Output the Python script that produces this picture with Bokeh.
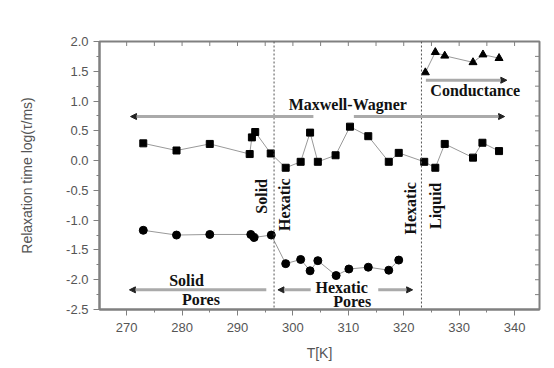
import math
from bokeh.plotting import figure
from bokeh.models import (Range1d, Span, Arrow, NormalHead, SingleIntervalTicker,
                          CustomJSTickFormatter)
from bokeh.core.properties import value
from bokeh.embed import file_html
from bokeh.resources import INLINE

# ---- data ----
sq_T = [273.0, 279.0, 285.0, 292.2, 292.6, 293.2, 296.0, 298.7, 301.4, 303.1, 304.5,
        307.7, 310.3, 313.6, 317.3, 319.1, 323.7, 325.7, 327.4, 332.5, 334.2, 337.2]
sq_y = [0.29, 0.17, 0.28, 0.11, 0.39, 0.48, 0.12, -0.12, -0.02, 0.47, -0.02,
        0.09, 0.57, 0.41, -0.02, 0.13, -0.02, -0.12, 0.28, 0.05, 0.30, 0.16]

ci_T = [273.0, 279.0, 285.0, 292.4, 293.0, 296.1, 298.7, 301.4, 303.1, 304.5,
        307.8, 310.1, 313.6, 317.3, 319.1]
ci_y = [-1.17, -1.25, -1.24, -1.24, -1.29, -1.25, -1.73, -1.66, -1.85, -1.68,
        -1.93, -1.82, -1.79, -1.84, -1.67]

tr_T = [323.9, 325.7, 327.4, 332.5, 334.3, 337.2]
tr_y = [1.48, 1.82, 1.76, 1.65, 1.78, 1.72]

transitions = [296.6, 323.2]

# mirrored (inward) tick positions on the top and right frame edges
top_ticks = [270, 275, 280, 285, 290, 295, 300, 305, 310, 315, 320, 325, 330, 335, 340]
right_ticks = [-2.25, -2.0, -1.75, -1.5, -1.25, -1.0, -0.75, -0.5, -0.25, 0.0,
               0.25, 0.5, 0.75, 1.0, 1.25, 1.5, 1.75]

X0, X1 = 265.1, 344.5
Y0, Y1 = -2.5, 2.0

FRAME = "#808080"
TXT = "#555555"

p = figure(width=554, height=368, output_backend="svg", toolbar_location=None,
           x_range=Range1d(X0, X1), y_range=Range1d(Y0, Y1),
           min_border_left=99, min_border_right=15, min_border_top=41, min_border_bottom=59,
           x_axis_label="T[K]", y_axis_label="Relaxation time log(τ/ms)")
p.xgrid.visible = False
p.ygrid.visible = False
p.outline_line_color = FRAME
p.outline_line_width = 2

xa = p.xaxis[0]
xa.ticker = SingleIntervalTicker(interval=10, num_minor_ticks=2)
ya = p.yaxis[0]
ya.ticker = SingleIntervalTicker(interval=0.5, num_minor_ticks=2)
ya.formatter = CustomJSTickFormatter(code="return tick.toFixed(1);")

for ax in (xa, ya):
    ax.axis_line_color = FRAME
    ax.axis_line_width = 2
    ax.major_tick_line_color = FRAME
    ax.minor_tick_line_color = FRAME
    ax.major_tick_line_width = 1
    ax.major_tick_out = 6
    ax.major_tick_in = 0
    ax.minor_tick_out = 3
    ax.minor_tick_in = 0
    ax.major_label_text_font = "Liberation Sans"
    ax.major_label_text_font_size = "13px"
    ax.major_label_text_color = TXT
    ax.axis_label_text_font = "Liberation Sans"
    ax.axis_label_text_font_size = "14px"
    ax.axis_label_text_font_style = "normal"
    ax.axis_label_text_color = TXT
xa.major_label_standoff = 7
ya.major_label_standoff = 5
xa.axis_label_standoff = 10
ya.axis_label_standoff = 28

# inward ticks on top and right edges (half of each dash is clipped by the frame)
p.scatter(top_ticks, [Y1] * len(top_ticks), marker="dash", size=9, angle=math.pi / 2,
          line_color=FRAME, line_width=1)
p.scatter([X1] * len(right_ticks), right_ticks, marker="dash", size=9,
          line_color=FRAME, line_width=1)

# transitions
for t in transitions:
    p.add_layout(Span(location=t, dimension="height", line_color="#555555",
                      line_dash="2 2", line_width=1))

# series
p.line(sq_T, sq_y, line_color="#999999", line_width=1)
p.scatter(sq_T, sq_y, marker="square", size=7, fill_color="black", line_color="black")
p.line(ci_T, ci_y, line_color="#999999", line_width=1)
p.scatter(ci_T, ci_y, marker="circle", size=8, fill_color="black", line_color="black")
p.line(tr_T, tr_y, line_color="#999999", line_width=1)
p.scatter(tr_T, tr_y, marker="triangle", size=8, fill_color="black", line_color="black")

# arrows
AC = "#aaaaaa"
def arrow(x0, y0, x1, y1):
    p.add_layout(Arrow(x_start=x0, y_start=y0, x_end=x1, y_end=y1,
                       line_color=AC, line_width=3,
                       end=NormalHead(size=6, fill_color="#222222", line_color="#222222")))

arrow(303.7, 0.74, 270.7, 0.74)          # Maxwell-Wagner left
arrow(311.0, 0.74, 338.2, 0.74)          # Maxwell-Wagner right
arrow(324.0, 1.35, 338.6, 1.35)          # Conductance
arrow(295.2, -2.17, 270.5, -2.17)        # Solid pores
arrow(303.2, -2.17, 297.3, -2.17)        # Hexatic pores left
arrow(315.4, -2.17, 321.6, -2.17)        # Hexatic pores right

SERIF = value("Liberation Serif")
def lab(x, y, s, angle=0.0):
    p.text(x=[x], y=[y], text=[s], angle=angle, text_font=SERIF, text_font_size="16px",
           text_font_style="bold", text_color="#111111", text_align="center",
           text_baseline="middle")

lab(309.9, 0.95, "Maxwell-Wagner")
lab(332.9, 1.17, "Conductance")
lab(280.8, -2.01, "Solid")
lab(283.4, -2.34, "Pores")
lab(308.8, -2.13, "Hexatic")
lab(310.7, -2.37, "Pores")
lab(294.3, -0.60, "Solid", math.pi / 2)
lab(298.4, -0.74, "Hexatic", math.pi / 2)
lab(321.2, -0.80, "Hexatic", math.pi / 2)
lab(325.7, -0.76, "Liquid", math.pi / 2)

open("out.html", "w").write(file_html(p, INLINE))
